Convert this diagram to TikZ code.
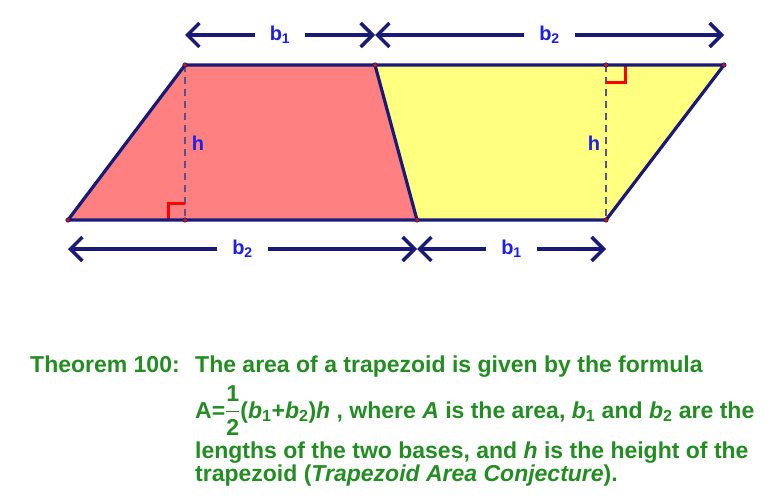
\documentclass[tikz,border=0pt]{standalone}
\usepackage{fontspec}
\usepackage{amsmath}
\setmainfont{Liberation Sans}
\usetikzlibrary{arrows.meta}
\definecolor{navy}{RGB}{25,25,120}
\definecolor{redfill}{RGB}{255,128,128}
\definecolor{yellowfill}{RGB}{255,255,128}
\definecolor{lblblue}{RGB}{30,30,230}
\definecolor{txtgreen}{RGB}{35,140,35}
\definecolor{dashgray}{RGB}{90,80,140}
\definecolor{dotred}{RGB}{200,20,20}
\tikzset{
  outline/.style={draw=navy, line width=3.2pt, line join=round, line cap=round},
  hdash/.style={draw=dashgray, line width=1.6pt, dash pattern=on 7pt off 5pt},
  rightmark/.style={draw=red, line width=3pt},
  dimline/.style={draw=navy, line width=3.4pt, -{Straight Barb[length=12pt,width=24pt,line width=3.4pt]}},
  dimlabel/.style={text=lblblue, font=\bfseries\fontsize{20}{20}\selectfont, minimum width=50pt, minimum height=18pt, inner sep=0pt},
  hlabel/.style={text=lblblue, font=\bfseries\fontsize{20}{20}\selectfont, inner sep=0pt},
  vdot/.style={fill=dotred, draw=navy, line width=0.6pt},
  txt/.style={text=txtgreen, font=\bfseries\fontsize{23}{23}\selectfont, inner sep=0pt, anchor=base west}
}
\begin{document}
\begin{tikzpicture}[x=1pt,y=-1pt]
\useasboundingbox (0,0) rectangle (771,500);
% vertices
\coordinate (A) at (68,220);
\coordinate (B) at (185,65);
\coordinate (C) at (375,65);
\coordinate (D) at (724,65);
\coordinate (E) at (606,220);
\coordinate (F) at (417,220);
\coordinate (H1) at (185,220);
\coordinate (H2) at (606,65);
% fills
\fill[redfill] (A) -- (B) -- (C) -- (F) -- cycle;
\fill[yellowfill] (C) -- (D) -- (E) -- (F) -- cycle;
% heights
\draw[hdash] (B) -- (H1);
\draw[hdash] (H2) -- (E);
% right angle marks
\draw[rightmark] (168,220) -- (168,203) -- (185,203);
\draw[rightmark] (625,65) -- (625,83) -- (606,83);
% outline
\draw[outline] (A) -- (B) -- (D) -- (E) -- cycle;
\draw[outline] (C) -- (F);
% vertex dots
\foreach \p in {A,B,C,D,E,F,H1,H2} \filldraw[vdot] (\p) circle (2.2pt);
% h labels
\node[hlabel] (h1) at (198,143) {h};
\node[hlabel] (h2) at (594,143) {h};
% dimension lines top
\coordinate (T1) at (185,35);
\coordinate (T2) at (375,35);
\coordinate (T3) at (724,35);
\node[dimlabel] (lb1t) at (280,35) {b\textsubscript{1}};
\node[dimlabel] (lb2t) at (549.5,35) {b\textsubscript{2}};
\draw[dimline] (lb1t) -- (T1);
\draw[dimline] (lb1t) -- (T2);
\draw[dimline] (lb2t) -- (T2);
\draw[dimline] (lb2t) -- (T3);
% dimension lines bottom
\coordinate (U1) at (68,249);
\coordinate (U2) at (417,249);
\coordinate (U3) at (606,249);
\node[dimlabel] (lb2b) at (242.5,249) {b\textsubscript{2}};
\node[dimlabel] (lb1b) at (511.5,249) {b\textsubscript{1}};
\draw[dimline] (lb2b) -- (U1);
\draw[dimline] (lb2b) -- (U2);
\draw[dimline] (lb1b) -- (U2);
\draw[dimline] (lb1b) -- (U3);
% theorem text
\node[txt] (thm) at (30,372) {Theorem 100:};
\node[txt] (l1) at (195,372) {The area of a trapezoid is given by the formula};
\node[txt] (l2) at (195,418) {A=$\dfrac{\text{1}}{\text{2}}$(\textit{b}\textsubscript{1}+\textit{b}\textsubscript{2})\textit{h} , where \textit{A} is the area, \textit{b}\textsubscript{1} and \textit{b}\textsubscript{2} are the};
\node[txt] (l3) at (195,458) {lengths of the two bases, and \textit{h} is the height of the};
\node[txt] (l4) at (195,481) {trapezoid (\textit{Trapezoid Area Conjecture}).};
\end{tikzpicture}
\end{document}
